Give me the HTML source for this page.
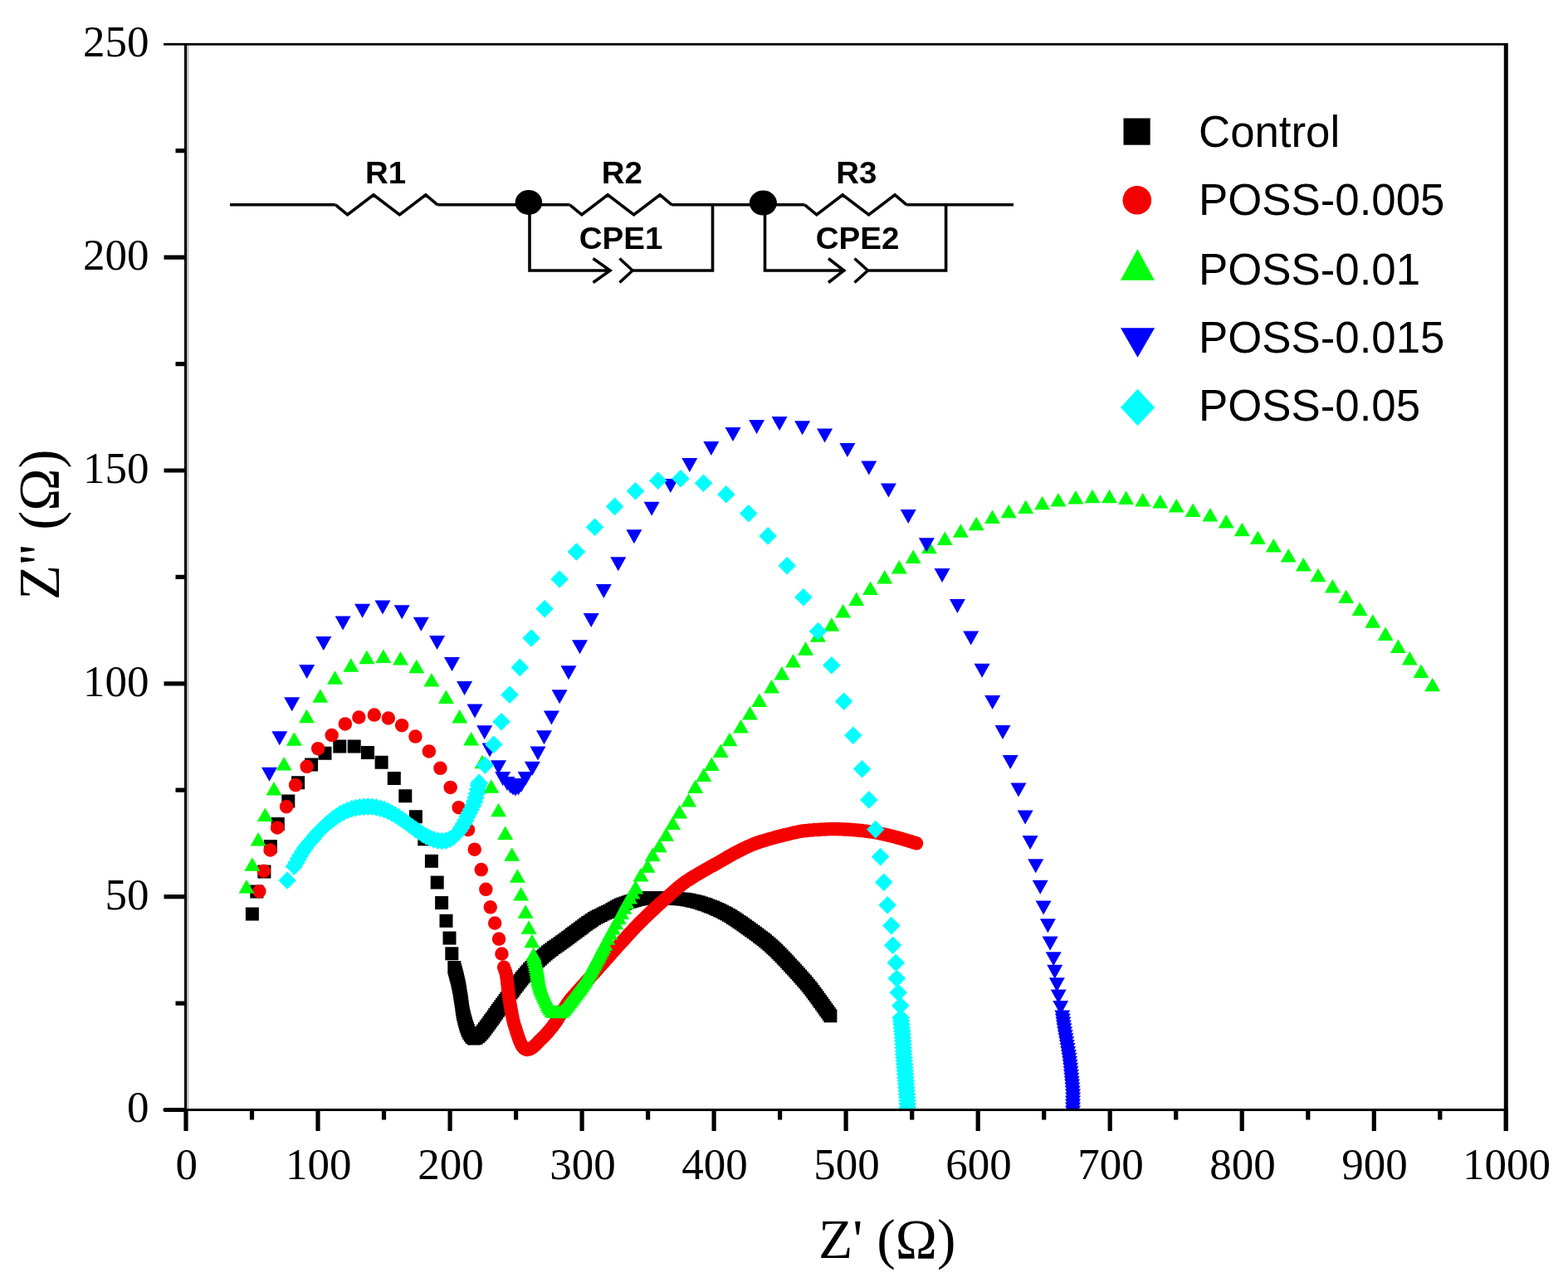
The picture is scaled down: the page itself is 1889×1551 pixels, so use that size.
<!DOCTYPE html><html><head><meta charset="utf-8"><style>html,body{margin:0;padding:0;background:#fff}svg{display:block}</style></head><body>
<svg width="1889" height="1551" viewBox="0 0 1889 1551">
<rect width="1889" height="1551" fill="#fff"/>
<defs><clipPath id="pc"><rect x="224" y="54" width="1590" height="1283.5"/></clipPath></defs>
<g clip-path="url(#pc)">
<path fill="#000" d="M295.9 1093.6h16v16h-16zM301.3 1066.4h16v16h-16zM310.4 1042.4h16v16h-16zM317.9 1011.9h16v16h-16zM326.8 984.9h16v16h-16zM339.3 957.6h16v16h-16zM351.1 935.3h16v16h-16zM367.1 913.5h16v16h-16zM383.5 899.7h16v16h-16zM401.3 891.6h16v16h-16zM418.7 891.6h16v16h-16zM435 899h16v16h-16zM451.6 910.8h16v16h-16zM466.8 929.9h16v16h-16zM480.3 951.2h16v16h-16zM492.9 976.3h16v16h-16zM503.3 1003.3h16v16h-16zM511.9 1029.8h16v16h-16zM518.7 1055.6h16v16h-16zM524.1 1080h16v16h-16zM529.5 1101.8h16v16h-16zM533.5 1122.5h16v16h-16zM536.3 1141.3h16v16h-16zM539.3 1158h16v16h-16zM540 1160.9h16v16h-16zM540.8 1163.8h16v16h-16zM541.5 1166.7h16v16h-16zM542.3 1169.6h16v16h-16zM543 1172.5h16v16h-16zM543.7 1175.4h16v16h-16zM544.4 1178.4h16v16h-16zM544.9 1181.3h16v16h-16zM545.5 1184.3h16v16h-16zM546 1187.2h16v16h-16zM546.4 1190.2h16v16h-16zM546.9 1193.2h16v16h-16zM547.4 1196.1h16v16h-16zM547.8 1199.1h16v16h-16zM548.2 1202.1h16v16h-16zM548.6 1205h16v16h-16zM549 1208h16v16h-16zM549.5 1211h16v16h-16zM550 1213.9h16v16h-16zM550.7 1216.8h16v16h-16zM551.4 1219.8h16v16h-16zM552.2 1222.7h16v16h-16zM553 1225.5h16v16h-16zM553.8 1228.4h16v16h-16zM554.8 1231.3h16v16h-16zM555.8 1234.1h16v16h-16zM557.2 1236.8h16v16h-16zM558.8 1239.3h16v16h-16zM560.5 1241.7h16v16h-16zM562.9 1243.5h16v16h-16zM565.7 1242.8h16v16h-16zM568.2 1241.1h16v16h-16zM570.3 1238.9h16v16h-16zM572.3 1236.7h16v16h-16zM574.2 1234.4h16v16h-16zM576 1232h16v16h-16zM577.8 1229.6h16v16h-16zM579.6 1227.2h16v16h-16zM581.4 1224.8h16v16h-16zM583.1 1222.3h16v16h-16zM584.8 1219.9h16v16h-16zM586.6 1217.4h16v16h-16zM588.3 1215h16v16h-16zM590.1 1212.6h16v16h-16zM591.8 1210.1h16v16h-16zM593.5 1207.7h16v16h-16zM595.3 1205.2h16v16h-16zM597 1202.8h16v16h-16zM598.8 1200.4h16v16h-16zM600.6 1197.9h16v16h-16zM602.4 1195.5h16v16h-16zM604.1 1193.1h16v16h-16zM605.9 1190.7h16v16h-16zM607.7 1188.3h16v16h-16zM609.5 1185.9h16v16h-16zM611.3 1183.5h16v16h-16zM613.1 1181.1h16v16h-16zM614.9 1178.7h16v16h-16zM616.7 1176.3h16v16h-16zM618.6 1173.9h16v16h-16zM620.4 1171.6h16v16h-16zM622.3 1169.3h16v16h-16zM624.2 1166.9h16v16h-16zM626.2 1164.6h16v16h-16zM628.1 1162.4h16v16h-16zM630.1 1160.1h16v16h-16zM632.2 1157.9h16v16h-16zM634.2 1155.8h16v16h-16zM636.4 1153.6h16v16h-16zM638.5 1151.5h16v16h-16zM640.7 1149.5h16v16h-16zM642.9 1147.5h16v16h-16zM645.1 1145.5h16v16h-16zM647.4 1143.5h16v16h-16zM649.7 1141.5h16v16h-16zM652 1139.6h16v16h-16zM654.3 1137.7h16v16h-16zM656.7 1135.9h16v16h-16zM659.1 1134.1h16v16h-16zM661.5 1132.4h16v16h-16zM664 1130.7h16v16h-16zM666.5 1129h16v16h-16zM668.9 1127.3h16v16h-16zM671.4 1125.5h16v16h-16zM673.8 1123.8h16v16h-16zM676.2 1122h16v16h-16zM678.6 1120.2h16v16h-16zM681 1118.3h16v16h-16zM683.4 1116.5h16v16h-16zM685.8 1114.7h16v16h-16zM688.2 1112.9h16v16h-16zM690.6 1111.2h16v16h-16zM693 1109.4h16v16h-16zM695.4 1107.6h16v16h-16zM697.9 1105.8h16v16h-16zM700.3 1104.1h16v16h-16zM702.8 1102.4h16v16h-16zM705.2 1100.7h16v16h-16zM707.8 1099.1h16v16h-16zM710.4 1097.6h16v16h-16zM713 1096.2h16v16h-16zM715.7 1094.9h16v16h-16zM718.4 1093.6h16v16h-16zM721.2 1092.3h16v16h-16zM723.9 1091h16v16h-16zM726.6 1089.7h16v16h-16zM729.2 1088.3h16v16h-16zM731.8 1086.8h16v16h-16zM734.4 1085.3h16v16h-16zM737 1083.8h16v16h-16zM739.7 1082.6h16v16h-16zM742.5 1081.4h16v16h-16zM745.3 1080.4h16v16h-16zM748.2 1079.4h16v16h-16zM751 1078.5h16v16h-16zM753.9 1077.7h16v16h-16zM756.8 1076.9h16v16h-16zM759.7 1076.1h16v16h-16zM762.6 1075.5h16v16h-16zM765.6 1074.9h16v16h-16zM768.5 1074.5h16v16h-16zM771.5 1074.2h16v16h-16zM774.5 1074h16v16h-16zM777.5 1073.9h16v16h-16zM780.5 1074h16v16h-16zM783.5 1074.1h16v16h-16zM786.5 1074.2h16v16h-16zM789.5 1074.3h16v16h-16zM792.5 1074.5h16v16h-16zM795.5 1074.6h16v16h-16zM798.5 1074.6h16v16h-16zM801.5 1074.7h16v16h-16zM804.5 1074.8h16v16h-16zM807.5 1075h16v16h-16zM810.5 1075.2h16v16h-16zM813.5 1075.5h16v16h-16zM816.5 1075.8h16v16h-16zM819.4 1076.3h16v16h-16zM822.4 1076.8h16v16h-16zM825.3 1077.4h16v16h-16zM828.2 1078.1h16v16h-16zM831.2 1078.8h16v16h-16zM834 1079.6h16v16h-16zM836.9 1080.5h16v16h-16zM839.8 1081.4h16v16h-16zM842.6 1082.3h16v16h-16zM845.4 1083.4h16v16h-16zM848.2 1084.4h16v16h-16zM851 1085.5h16v16h-16zM853.8 1086.7h16v16h-16zM856.5 1087.9h16v16h-16zM859.2 1089.2h16v16h-16zM861.9 1090.5h16v16h-16zM864.6 1091.9h16v16h-16zM867.2 1093.3h16v16h-16zM869.9 1094.8h16v16h-16zM872.5 1096.3h16v16h-16zM875 1097.9h16v16h-16zM877.5 1099.5h16v16h-16zM880 1101.2h16v16h-16zM882.5 1102.9h16v16h-16zM885 1104.6h16v16h-16zM887.4 1106.3h16v16h-16zM889.8 1108.1h16v16h-16zM892.3 1109.8h16v16h-16zM894.7 1111.6h16v16h-16zM897.1 1113.3h16v16h-16zM899.6 1115.1h16v16h-16zM902 1116.8h16v16h-16zM904.5 1118.6h16v16h-16zM906.9 1120.4h16v16h-16zM909.3 1122.2h16v16h-16zM911.7 1124h16v16h-16zM914 1125.8h16v16h-16zM916.3 1127.7h16v16h-16zM918.6 1129.7h16v16h-16zM920.9 1131.7h16v16h-16zM923.1 1133.7h16v16h-16zM925.3 1135.8h16v16h-16zM927.4 1137.8h16v16h-16zM929.5 1140h16v16h-16zM931.6 1142.1h16v16h-16zM933.7 1144.3h16v16h-16zM935.8 1146.4h16v16h-16zM937.8 1148.6h16v16h-16zM939.9 1150.8h16v16h-16zM941.9 1153h16v16h-16zM944 1155.2h16v16h-16zM946 1157.4h16v16h-16zM948.1 1159.6h16v16h-16zM950.1 1161.8h16v16h-16zM952.1 1164h16v16h-16zM954.1 1166.2h16v16h-16zM956.1 1168.5h16v16h-16zM958.1 1170.7h16v16h-16zM960.1 1173h16v16h-16zM962 1175.3h16v16h-16zM964 1177.6h16v16h-16zM965.9 1179.9h16v16h-16zM967.8 1182.2h16v16h-16zM969.6 1184.6h16v16h-16zM971.4 1187h16v16h-16zM973.2 1189.4h16v16h-16zM975 1191.8h16v16h-16zM976.7 1194.2h16v16h-16zM978.5 1196.7h16v16h-16zM980.2 1199.1h16v16h-16zM982 1201.5h16v16h-16zM983.7 1204h16v16h-16zM985.5 1206.4h16v16h-16zM987.2 1208.9h16v16h-16zM988.9 1211.3h16v16h-16zM990.7 1213.8h16v16h-16zM992.4 1216.3h16v16h-16zM992.4 1216.3h16v16h-16z"/>
<path fill="#f50000" d="M304.1 1074.2a8.2 8.2 0 1 0 16.5 0a8.2 8.2 0 1 0 -16.5 0zM309.6 1049.7a8.2 8.2 0 1 0 16.5 0a8.2 8.2 0 1 0 -16.5 0zM317.4 1024.4a8.2 8.2 0 1 0 16.5 0a8.2 8.2 0 1 0 -16.5 0zM325.9 997.4a8.2 8.2 0 1 0 16.5 0a8.2 8.2 0 1 0 -16.5 0zM336.8 972.2a8.2 8.2 0 1 0 16.5 0a8.2 8.2 0 1 0 -16.5 0zM347.8 946.1a8.2 8.2 0 1 0 16.5 0a8.2 8.2 0 1 0 -16.5 0zM361.4 923.8a8.2 8.2 0 1 0 16.5 0a8.2 8.2 0 1 0 -16.5 0zM374.9 902.2a8.2 8.2 0 1 0 16.5 0a8.2 8.2 0 1 0 -16.5 0zM391.4 886a8.2 8.2 0 1 0 16.5 0a8.2 8.2 0 1 0 -16.5 0zM407.6 872.4a8.2 8.2 0 1 0 16.5 0a8.2 8.2 0 1 0 -16.5 0zM424.1 864.5a8.2 8.2 0 1 0 16.5 0a8.2 8.2 0 1 0 -16.5 0zM442.6 861.6a8.2 8.2 0 1 0 16.5 0a8.2 8.2 0 1 0 -16.5 0zM459.6 865.5a8.2 8.2 0 1 0 16.5 0a8.2 8.2 0 1 0 -16.5 0zM475.9 874.2a8.2 8.2 0 1 0 16.5 0a8.2 8.2 0 1 0 -16.5 0zM492.2 887.6a8.2 8.2 0 1 0 16.5 0a8.2 8.2 0 1 0 -16.5 0zM508.6 905.4a8.2 8.2 0 1 0 16.5 0a8.2 8.2 0 1 0 -16.5 0zM522.2 925.8a8.2 8.2 0 1 0 16.5 0a8.2 8.2 0 1 0 -16.5 0zM534.4 948.9a8.2 8.2 0 1 0 16.5 0a8.2 8.2 0 1 0 -16.5 0zM544.4 973.2a8.2 8.2 0 1 0 16.5 0a8.2 8.2 0 1 0 -16.5 0zM555.8 1000a8.2 8.2 0 1 0 16.5 0a8.2 8.2 0 1 0 -16.5 0zM563.5 1023.7a8.2 8.2 0 1 0 16.5 0a8.2 8.2 0 1 0 -16.5 0zM571.5 1048.1a8.2 8.2 0 1 0 16.5 0a8.2 8.2 0 1 0 -16.5 0zM577.1 1071.8a8.2 8.2 0 1 0 16.5 0a8.2 8.2 0 1 0 -16.5 0zM582.5 1093.3a8.2 8.2 0 1 0 16.5 0a8.2 8.2 0 1 0 -16.5 0zM587.9 1112.5a8.2 8.2 0 1 0 16.5 0a8.2 8.2 0 1 0 -16.5 0zM592.8 1131.6a8.2 8.2 0 1 0 16.5 0a8.2 8.2 0 1 0 -16.5 0zM596.2 1149.5a8.2 8.2 0 1 0 16.5 0a8.2 8.2 0 1 0 -16.5 0zM598.9 1165.7a8.2 8.2 0 1 0 16.5 0a8.2 8.2 0 1 0 -16.5 0zM598.9 1165.7a8.2 8.2 0 1 0 16.5 0a8.2 8.2 0 1 0 -16.5 0zM599.9 1168.5a8.2 8.2 0 1 0 16.5 0a8.2 8.2 0 1 0 -16.5 0zM600.9 1171.3a8.2 8.2 0 1 0 16.5 0a8.2 8.2 0 1 0 -16.5 0zM601.6 1174.3a8.2 8.2 0 1 0 16.5 0a8.2 8.2 0 1 0 -16.5 0zM602.1 1177.2a8.2 8.2 0 1 0 16.5 0a8.2 8.2 0 1 0 -16.5 0zM602.5 1180.2a8.2 8.2 0 1 0 16.5 0a8.2 8.2 0 1 0 -16.5 0zM602.8 1183.2a8.2 8.2 0 1 0 16.5 0a8.2 8.2 0 1 0 -16.5 0zM603.2 1186.1a8.2 8.2 0 1 0 16.5 0a8.2 8.2 0 1 0 -16.5 0zM603.5 1189.1a8.2 8.2 0 1 0 16.5 0a8.2 8.2 0 1 0 -16.5 0zM603.8 1192.1a8.2 8.2 0 1 0 16.5 0a8.2 8.2 0 1 0 -16.5 0zM604.2 1195.1a8.2 8.2 0 1 0 16.5 0a8.2 8.2 0 1 0 -16.5 0zM604.5 1198.1a8.2 8.2 0 1 0 16.5 0a8.2 8.2 0 1 0 -16.5 0zM604.9 1201a8.2 8.2 0 1 0 16.5 0a8.2 8.2 0 1 0 -16.5 0zM605.3 1204a8.2 8.2 0 1 0 16.5 0a8.2 8.2 0 1 0 -16.5 0zM605.8 1207a8.2 8.2 0 1 0 16.5 0a8.2 8.2 0 1 0 -16.5 0zM606.2 1210a8.2 8.2 0 1 0 16.5 0a8.2 8.2 0 1 0 -16.5 0zM606.7 1212.9a8.2 8.2 0 1 0 16.5 0a8.2 8.2 0 1 0 -16.5 0zM607.2 1215.9a8.2 8.2 0 1 0 16.5 0a8.2 8.2 0 1 0 -16.5 0zM607.8 1218.8a8.2 8.2 0 1 0 16.5 0a8.2 8.2 0 1 0 -16.5 0zM608.3 1221.8a8.2 8.2 0 1 0 16.5 0a8.2 8.2 0 1 0 -16.5 0zM609 1224.7a8.2 8.2 0 1 0 16.5 0a8.2 8.2 0 1 0 -16.5 0zM609.6 1227.6a8.2 8.2 0 1 0 16.5 0a8.2 8.2 0 1 0 -16.5 0zM610.3 1230.5a8.2 8.2 0 1 0 16.5 0a8.2 8.2 0 1 0 -16.5 0zM611 1233.5a8.2 8.2 0 1 0 16.5 0a8.2 8.2 0 1 0 -16.5 0zM611.8 1236.3a8.2 8.2 0 1 0 16.5 0a8.2 8.2 0 1 0 -16.5 0zM612.7 1239.2a8.2 8.2 0 1 0 16.5 0a8.2 8.2 0 1 0 -16.5 0zM613.6 1242.1a8.2 8.2 0 1 0 16.5 0a8.2 8.2 0 1 0 -16.5 0zM614.5 1244.9a8.2 8.2 0 1 0 16.5 0a8.2 8.2 0 1 0 -16.5 0zM615.5 1247.8a8.2 8.2 0 1 0 16.5 0a8.2 8.2 0 1 0 -16.5 0zM616.5 1250.6a8.2 8.2 0 1 0 16.5 0a8.2 8.2 0 1 0 -16.5 0zM617.5 1253.4a8.2 8.2 0 1 0 16.5 0a8.2 8.2 0 1 0 -16.5 0zM618.6 1256.2a8.2 8.2 0 1 0 16.5 0a8.2 8.2 0 1 0 -16.5 0zM619.8 1258.9a8.2 8.2 0 1 0 16.5 0a8.2 8.2 0 1 0 -16.5 0zM621.4 1261.5a8.2 8.2 0 1 0 16.5 0a8.2 8.2 0 1 0 -16.5 0zM623.4 1263.7a8.2 8.2 0 1 0 16.5 0a8.2 8.2 0 1 0 -16.5 0zM626.1 1265a8.2 8.2 0 1 0 16.5 0a8.2 8.2 0 1 0 -16.5 0zM629 1264.6a8.2 8.2 0 1 0 16.5 0a8.2 8.2 0 1 0 -16.5 0zM631.8 1263.3a8.2 8.2 0 1 0 16.5 0a8.2 8.2 0 1 0 -16.5 0zM634.2 1261.6a8.2 8.2 0 1 0 16.5 0a8.2 8.2 0 1 0 -16.5 0zM636.5 1259.6a8.2 8.2 0 1 0 16.5 0a8.2 8.2 0 1 0 -16.5 0zM638.6 1257.5a8.2 8.2 0 1 0 16.5 0a8.2 8.2 0 1 0 -16.5 0zM640.6 1255.3a8.2 8.2 0 1 0 16.5 0a8.2 8.2 0 1 0 -16.5 0zM642.8 1253.2a8.2 8.2 0 1 0 16.5 0a8.2 8.2 0 1 0 -16.5 0zM644.9 1251.1a8.2 8.2 0 1 0 16.5 0a8.2 8.2 0 1 0 -16.5 0zM647.1 1249a8.2 8.2 0 1 0 16.5 0a8.2 8.2 0 1 0 -16.5 0zM649.1 1246.8a8.2 8.2 0 1 0 16.5 0a8.2 8.2 0 1 0 -16.5 0zM651.1 1244.6a8.2 8.2 0 1 0 16.5 0a8.2 8.2 0 1 0 -16.5 0zM653.1 1242.3a8.2 8.2 0 1 0 16.5 0a8.2 8.2 0 1 0 -16.5 0zM655 1240a8.2 8.2 0 1 0 16.5 0a8.2 8.2 0 1 0 -16.5 0zM656.9 1237.7a8.2 8.2 0 1 0 16.5 0a8.2 8.2 0 1 0 -16.5 0zM658.7 1235.3a8.2 8.2 0 1 0 16.5 0a8.2 8.2 0 1 0 -16.5 0zM660.5 1232.9a8.2 8.2 0 1 0 16.5 0a8.2 8.2 0 1 0 -16.5 0zM662.2 1230.4a8.2 8.2 0 1 0 16.5 0a8.2 8.2 0 1 0 -16.5 0zM663.8 1227.9a8.2 8.2 0 1 0 16.5 0a8.2 8.2 0 1 0 -16.5 0zM665.4 1225.3a8.2 8.2 0 1 0 16.5 0a8.2 8.2 0 1 0 -16.5 0zM666.9 1222.8a8.2 8.2 0 1 0 16.5 0a8.2 8.2 0 1 0 -16.5 0zM668.5 1220.2a8.2 8.2 0 1 0 16.5 0a8.2 8.2 0 1 0 -16.5 0zM670.1 1217.6a8.2 8.2 0 1 0 16.5 0a8.2 8.2 0 1 0 -16.5 0zM671.7 1215.1a8.2 8.2 0 1 0 16.5 0a8.2 8.2 0 1 0 -16.5 0zM673.3 1212.6a8.2 8.2 0 1 0 16.5 0a8.2 8.2 0 1 0 -16.5 0zM674.9 1210.1a8.2 8.2 0 1 0 16.5 0a8.2 8.2 0 1 0 -16.5 0zM676.7 1207.6a8.2 8.2 0 1 0 16.5 0a8.2 8.2 0 1 0 -16.5 0zM678.5 1205.2a8.2 8.2 0 1 0 16.5 0a8.2 8.2 0 1 0 -16.5 0zM680.3 1202.9a8.2 8.2 0 1 0 16.5 0a8.2 8.2 0 1 0 -16.5 0zM682.3 1200.6a8.2 8.2 0 1 0 16.5 0a8.2 8.2 0 1 0 -16.5 0zM684.3 1198.3a8.2 8.2 0 1 0 16.5 0a8.2 8.2 0 1 0 -16.5 0zM686.3 1196.1a8.2 8.2 0 1 0 16.5 0a8.2 8.2 0 1 0 -16.5 0zM688.3 1193.9a8.2 8.2 0 1 0 16.5 0a8.2 8.2 0 1 0 -16.5 0zM690.3 1191.7a8.2 8.2 0 1 0 16.5 0a8.2 8.2 0 1 0 -16.5 0zM692.3 1189.4a8.2 8.2 0 1 0 16.5 0a8.2 8.2 0 1 0 -16.5 0zM694.3 1187.2a8.2 8.2 0 1 0 16.5 0a8.2 8.2 0 1 0 -16.5 0zM696.3 1185a8.2 8.2 0 1 0 16.5 0a8.2 8.2 0 1 0 -16.5 0zM698.3 1182.7a8.2 8.2 0 1 0 16.5 0a8.2 8.2 0 1 0 -16.5 0zM700.3 1180.5a8.2 8.2 0 1 0 16.5 0a8.2 8.2 0 1 0 -16.5 0zM702.3 1178.3a8.2 8.2 0 1 0 16.5 0a8.2 8.2 0 1 0 -16.5 0zM704.3 1176a8.2 8.2 0 1 0 16.5 0a8.2 8.2 0 1 0 -16.5 0zM706.4 1173.8a8.2 8.2 0 1 0 16.5 0a8.2 8.2 0 1 0 -16.5 0zM708.4 1171.6a8.2 8.2 0 1 0 16.5 0a8.2 8.2 0 1 0 -16.5 0zM710.4 1169.4a8.2 8.2 0 1 0 16.5 0a8.2 8.2 0 1 0 -16.5 0zM712.4 1167.1a8.2 8.2 0 1 0 16.5 0a8.2 8.2 0 1 0 -16.5 0zM714.4 1164.9a8.2 8.2 0 1 0 16.5 0a8.2 8.2 0 1 0 -16.5 0zM716.4 1162.7a8.2 8.2 0 1 0 16.5 0a8.2 8.2 0 1 0 -16.5 0zM718.4 1160.4a8.2 8.2 0 1 0 16.5 0a8.2 8.2 0 1 0 -16.5 0zM720.4 1158.2a8.2 8.2 0 1 0 16.5 0a8.2 8.2 0 1 0 -16.5 0zM722.4 1156a8.2 8.2 0 1 0 16.5 0a8.2 8.2 0 1 0 -16.5 0zM724.4 1153.7a8.2 8.2 0 1 0 16.5 0a8.2 8.2 0 1 0 -16.5 0zM726.3 1151.5a8.2 8.2 0 1 0 16.5 0a8.2 8.2 0 1 0 -16.5 0zM728.3 1149.2a8.2 8.2 0 1 0 16.5 0a8.2 8.2 0 1 0 -16.5 0zM730.3 1147a8.2 8.2 0 1 0 16.5 0a8.2 8.2 0 1 0 -16.5 0zM732.3 1144.7a8.2 8.2 0 1 0 16.5 0a8.2 8.2 0 1 0 -16.5 0zM734.3 1142.5a8.2 8.2 0 1 0 16.5 0a8.2 8.2 0 1 0 -16.5 0zM736.3 1140.2a8.2 8.2 0 1 0 16.5 0a8.2 8.2 0 1 0 -16.5 0zM738.3 1138a8.2 8.2 0 1 0 16.5 0a8.2 8.2 0 1 0 -16.5 0zM740.3 1135.8a8.2 8.2 0 1 0 16.5 0a8.2 8.2 0 1 0 -16.5 0zM742.4 1133.6a8.2 8.2 0 1 0 16.5 0a8.2 8.2 0 1 0 -16.5 0zM744.4 1131.4a8.2 8.2 0 1 0 16.5 0a8.2 8.2 0 1 0 -16.5 0zM746.4 1129.1a8.2 8.2 0 1 0 16.5 0a8.2 8.2 0 1 0 -16.5 0zM748.4 1126.9a8.2 8.2 0 1 0 16.5 0a8.2 8.2 0 1 0 -16.5 0zM750.4 1124.7a8.2 8.2 0 1 0 16.5 0a8.2 8.2 0 1 0 -16.5 0zM752.5 1122.5a8.2 8.2 0 1 0 16.5 0a8.2 8.2 0 1 0 -16.5 0zM754.5 1120.3a8.2 8.2 0 1 0 16.5 0a8.2 8.2 0 1 0 -16.5 0zM756.6 1118.1a8.2 8.2 0 1 0 16.5 0a8.2 8.2 0 1 0 -16.5 0zM758.7 1116a8.2 8.2 0 1 0 16.5 0a8.2 8.2 0 1 0 -16.5 0zM760.7 1113.8a8.2 8.2 0 1 0 16.5 0a8.2 8.2 0 1 0 -16.5 0zM762.9 1111.7a8.2 8.2 0 1 0 16.5 0a8.2 8.2 0 1 0 -16.5 0zM765 1109.6a8.2 8.2 0 1 0 16.5 0a8.2 8.2 0 1 0 -16.5 0zM767.1 1107.5a8.2 8.2 0 1 0 16.5 0a8.2 8.2 0 1 0 -16.5 0zM769.3 1105.4a8.2 8.2 0 1 0 16.5 0a8.2 8.2 0 1 0 -16.5 0zM771.4 1103.3a8.2 8.2 0 1 0 16.5 0a8.2 8.2 0 1 0 -16.5 0zM773.6 1101.2a8.2 8.2 0 1 0 16.5 0a8.2 8.2 0 1 0 -16.5 0zM775.8 1099.2a8.2 8.2 0 1 0 16.5 0a8.2 8.2 0 1 0 -16.5 0zM778 1097.1a8.2 8.2 0 1 0 16.5 0a8.2 8.2 0 1 0 -16.5 0zM780.2 1095.1a8.2 8.2 0 1 0 16.5 0a8.2 8.2 0 1 0 -16.5 0zM782.4 1093a8.2 8.2 0 1 0 16.5 0a8.2 8.2 0 1 0 -16.5 0zM784.6 1091a8.2 8.2 0 1 0 16.5 0a8.2 8.2 0 1 0 -16.5 0zM786.8 1088.9a8.2 8.2 0 1 0 16.5 0a8.2 8.2 0 1 0 -16.5 0zM789 1087a8.2 8.2 0 1 0 16.5 0a8.2 8.2 0 1 0 -16.5 0zM791.3 1085a8.2 8.2 0 1 0 16.5 0a8.2 8.2 0 1 0 -16.5 0zM793.6 1083a8.2 8.2 0 1 0 16.5 0a8.2 8.2 0 1 0 -16.5 0zM795.8 1081.1a8.2 8.2 0 1 0 16.5 0a8.2 8.2 0 1 0 -16.5 0zM798 1079.1a8.2 8.2 0 1 0 16.5 0a8.2 8.2 0 1 0 -16.5 0zM800.3 1077a8.2 8.2 0 1 0 16.5 0a8.2 8.2 0 1 0 -16.5 0zM802.5 1075a8.2 8.2 0 1 0 16.5 0a8.2 8.2 0 1 0 -16.5 0zM804.8 1073.1a8.2 8.2 0 1 0 16.5 0a8.2 8.2 0 1 0 -16.5 0zM807 1071.1a8.2 8.2 0 1 0 16.5 0a8.2 8.2 0 1 0 -16.5 0zM809.3 1069.2a8.2 8.2 0 1 0 16.5 0a8.2 8.2 0 1 0 -16.5 0zM811.6 1067.3a8.2 8.2 0 1 0 16.5 0a8.2 8.2 0 1 0 -16.5 0zM814 1065.4a8.2 8.2 0 1 0 16.5 0a8.2 8.2 0 1 0 -16.5 0zM816.4 1063.6a8.2 8.2 0 1 0 16.5 0a8.2 8.2 0 1 0 -16.5 0zM818.9 1061.9a8.2 8.2 0 1 0 16.5 0a8.2 8.2 0 1 0 -16.5 0zM821.4 1060.3a8.2 8.2 0 1 0 16.5 0a8.2 8.2 0 1 0 -16.5 0zM823.9 1058.6a8.2 8.2 0 1 0 16.5 0a8.2 8.2 0 1 0 -16.5 0zM826.5 1057.1a8.2 8.2 0 1 0 16.5 0a8.2 8.2 0 1 0 -16.5 0zM829 1055.5a8.2 8.2 0 1 0 16.5 0a8.2 8.2 0 1 0 -16.5 0zM831.6 1054a8.2 8.2 0 1 0 16.5 0a8.2 8.2 0 1 0 -16.5 0zM834.2 1052.4a8.2 8.2 0 1 0 16.5 0a8.2 8.2 0 1 0 -16.5 0zM836.8 1050.9a8.2 8.2 0 1 0 16.5 0a8.2 8.2 0 1 0 -16.5 0zM839.4 1049.4a8.2 8.2 0 1 0 16.5 0a8.2 8.2 0 1 0 -16.5 0zM842 1047.9a8.2 8.2 0 1 0 16.5 0a8.2 8.2 0 1 0 -16.5 0zM844.6 1046.5a8.2 8.2 0 1 0 16.5 0a8.2 8.2 0 1 0 -16.5 0zM847.2 1045a8.2 8.2 0 1 0 16.5 0a8.2 8.2 0 1 0 -16.5 0zM849.8 1043.6a8.2 8.2 0 1 0 16.5 0a8.2 8.2 0 1 0 -16.5 0zM852.5 1042.1a8.2 8.2 0 1 0 16.5 0a8.2 8.2 0 1 0 -16.5 0zM855.1 1040.7a8.2 8.2 0 1 0 16.5 0a8.2 8.2 0 1 0 -16.5 0zM857.7 1039.2a8.2 8.2 0 1 0 16.5 0a8.2 8.2 0 1 0 -16.5 0zM860.3 1037.7a8.2 8.2 0 1 0 16.5 0a8.2 8.2 0 1 0 -16.5 0zM862.9 1036.2a8.2 8.2 0 1 0 16.5 0a8.2 8.2 0 1 0 -16.5 0zM865.5 1034.7a8.2 8.2 0 1 0 16.5 0a8.2 8.2 0 1 0 -16.5 0zM868.1 1033.1a8.2 8.2 0 1 0 16.5 0a8.2 8.2 0 1 0 -16.5 0zM870.7 1031.6a8.2 8.2 0 1 0 16.5 0a8.2 8.2 0 1 0 -16.5 0zM873.3 1030.2a8.2 8.2 0 1 0 16.5 0a8.2 8.2 0 1 0 -16.5 0zM875.9 1028.7a8.2 8.2 0 1 0 16.5 0a8.2 8.2 0 1 0 -16.5 0zM878.6 1027.3a8.2 8.2 0 1 0 16.5 0a8.2 8.2 0 1 0 -16.5 0zM881.2 1025.9a8.2 8.2 0 1 0 16.5 0a8.2 8.2 0 1 0 -16.5 0zM883.9 1024.6a8.2 8.2 0 1 0 16.5 0a8.2 8.2 0 1 0 -16.5 0zM886.6 1023.2a8.2 8.2 0 1 0 16.5 0a8.2 8.2 0 1 0 -16.5 0zM889.3 1021.9a8.2 8.2 0 1 0 16.5 0a8.2 8.2 0 1 0 -16.5 0zM892 1020.6a8.2 8.2 0 1 0 16.5 0a8.2 8.2 0 1 0 -16.5 0zM894.7 1019.4a8.2 8.2 0 1 0 16.5 0a8.2 8.2 0 1 0 -16.5 0zM897.5 1018.2a8.2 8.2 0 1 0 16.5 0a8.2 8.2 0 1 0 -16.5 0zM900.3 1017.1a8.2 8.2 0 1 0 16.5 0a8.2 8.2 0 1 0 -16.5 0zM903.1 1016.1a8.2 8.2 0 1 0 16.5 0a8.2 8.2 0 1 0 -16.5 0zM905.9 1015.1a8.2 8.2 0 1 0 16.5 0a8.2 8.2 0 1 0 -16.5 0zM908.8 1014.1a8.2 8.2 0 1 0 16.5 0a8.2 8.2 0 1 0 -16.5 0zM911.6 1013.3a8.2 8.2 0 1 0 16.5 0a8.2 8.2 0 1 0 -16.5 0zM914.5 1012.4a8.2 8.2 0 1 0 16.5 0a8.2 8.2 0 1 0 -16.5 0zM917.4 1011.5a8.2 8.2 0 1 0 16.5 0a8.2 8.2 0 1 0 -16.5 0zM920.3 1010.7a8.2 8.2 0 1 0 16.5 0a8.2 8.2 0 1 0 -16.5 0zM923.1 1009.9a8.2 8.2 0 1 0 16.5 0a8.2 8.2 0 1 0 -16.5 0zM926 1009.1a8.2 8.2 0 1 0 16.5 0a8.2 8.2 0 1 0 -16.5 0zM928.9 1008.3a8.2 8.2 0 1 0 16.5 0a8.2 8.2 0 1 0 -16.5 0zM931.8 1007.6a8.2 8.2 0 1 0 16.5 0a8.2 8.2 0 1 0 -16.5 0zM934.7 1006.8a8.2 8.2 0 1 0 16.5 0a8.2 8.2 0 1 0 -16.5 0zM937.7 1006.1a8.2 8.2 0 1 0 16.5 0a8.2 8.2 0 1 0 -16.5 0zM940.6 1005.4a8.2 8.2 0 1 0 16.5 0a8.2 8.2 0 1 0 -16.5 0zM943.5 1004.7a8.2 8.2 0 1 0 16.5 0a8.2 8.2 0 1 0 -16.5 0zM946.4 1004a8.2 8.2 0 1 0 16.5 0a8.2 8.2 0 1 0 -16.5 0zM949.3 1003.3a8.2 8.2 0 1 0 16.5 0a8.2 8.2 0 1 0 -16.5 0zM952.3 1002.7a8.2 8.2 0 1 0 16.5 0a8.2 8.2 0 1 0 -16.5 0zM955.2 1002.1a8.2 8.2 0 1 0 16.5 0a8.2 8.2 0 1 0 -16.5 0zM958.2 1001.6a8.2 8.2 0 1 0 16.5 0a8.2 8.2 0 1 0 -16.5 0zM961.1 1001.2a8.2 8.2 0 1 0 16.5 0a8.2 8.2 0 1 0 -16.5 0zM964.1 1000.9a8.2 8.2 0 1 0 16.5 0a8.2 8.2 0 1 0 -16.5 0zM967.1 1000.6a8.2 8.2 0 1 0 16.5 0a8.2 8.2 0 1 0 -16.5 0zM970.1 1000.4a8.2 8.2 0 1 0 16.5 0a8.2 8.2 0 1 0 -16.5 0zM973.1 1000.1a8.2 8.2 0 1 0 16.5 0a8.2 8.2 0 1 0 -16.5 0zM976.1 999.9a8.2 8.2 0 1 0 16.5 0a8.2 8.2 0 1 0 -16.5 0zM979.1 999.7a8.2 8.2 0 1 0 16.5 0a8.2 8.2 0 1 0 -16.5 0zM982.1 999.5a8.2 8.2 0 1 0 16.5 0a8.2 8.2 0 1 0 -16.5 0zM985.1 999.4a8.2 8.2 0 1 0 16.5 0a8.2 8.2 0 1 0 -16.5 0zM988.1 999.3a8.2 8.2 0 1 0 16.5 0a8.2 8.2 0 1 0 -16.5 0zM991.1 999.2a8.2 8.2 0 1 0 16.5 0a8.2 8.2 0 1 0 -16.5 0zM994.1 999.1a8.2 8.2 0 1 0 16.5 0a8.2 8.2 0 1 0 -16.5 0zM997.1 999.1a8.2 8.2 0 1 0 16.5 0a8.2 8.2 0 1 0 -16.5 0zM1000.1 999.1a8.2 8.2 0 1 0 16.5 0a8.2 8.2 0 1 0 -16.5 0zM1003.1 999.2a8.2 8.2 0 1 0 16.5 0a8.2 8.2 0 1 0 -16.5 0zM1006.1 999.3a8.2 8.2 0 1 0 16.5 0a8.2 8.2 0 1 0 -16.5 0zM1009.1 999.4a8.2 8.2 0 1 0 16.5 0a8.2 8.2 0 1 0 -16.5 0zM1012.1 999.6a8.2 8.2 0 1 0 16.5 0a8.2 8.2 0 1 0 -16.5 0zM1015 999.8a8.2 8.2 0 1 0 16.5 0a8.2 8.2 0 1 0 -16.5 0zM1018 1000a8.2 8.2 0 1 0 16.5 0a8.2 8.2 0 1 0 -16.5 0zM1021 1000.2a8.2 8.2 0 1 0 16.5 0a8.2 8.2 0 1 0 -16.5 0zM1024 1000.5a8.2 8.2 0 1 0 16.5 0a8.2 8.2 0 1 0 -16.5 0zM1027 1000.8a8.2 8.2 0 1 0 16.5 0a8.2 8.2 0 1 0 -16.5 0zM1030 1001.1a8.2 8.2 0 1 0 16.5 0a8.2 8.2 0 1 0 -16.5 0zM1033 1001.4a8.2 8.2 0 1 0 16.5 0a8.2 8.2 0 1 0 -16.5 0zM1035.9 1001.8a8.2 8.2 0 1 0 16.5 0a8.2 8.2 0 1 0 -16.5 0zM1038.9 1002.2a8.2 8.2 0 1 0 16.5 0a8.2 8.2 0 1 0 -16.5 0zM1041.9 1002.6a8.2 8.2 0 1 0 16.5 0a8.2 8.2 0 1 0 -16.5 0zM1044.9 1003.1a8.2 8.2 0 1 0 16.5 0a8.2 8.2 0 1 0 -16.5 0zM1047.8 1003.6a8.2 8.2 0 1 0 16.5 0a8.2 8.2 0 1 0 -16.5 0zM1050.8 1004.1a8.2 8.2 0 1 0 16.5 0a8.2 8.2 0 1 0 -16.5 0zM1053.7 1004.8a8.2 8.2 0 1 0 16.5 0a8.2 8.2 0 1 0 -16.5 0zM1056.6 1005.4a8.2 8.2 0 1 0 16.5 0a8.2 8.2 0 1 0 -16.5 0zM1059.5 1006.1a8.2 8.2 0 1 0 16.5 0a8.2 8.2 0 1 0 -16.5 0zM1062.5 1006.8a8.2 8.2 0 1 0 16.5 0a8.2 8.2 0 1 0 -16.5 0zM1065.4 1007.5a8.2 8.2 0 1 0 16.5 0a8.2 8.2 0 1 0 -16.5 0zM1068.3 1008.2a8.2 8.2 0 1 0 16.5 0a8.2 8.2 0 1 0 -16.5 0zM1071.2 1009a8.2 8.2 0 1 0 16.5 0a8.2 8.2 0 1 0 -16.5 0zM1074.1 1009.8a8.2 8.2 0 1 0 16.5 0a8.2 8.2 0 1 0 -16.5 0zM1077 1010.6a8.2 8.2 0 1 0 16.5 0a8.2 8.2 0 1 0 -16.5 0zM1079.8 1011.5a8.2 8.2 0 1 0 16.5 0a8.2 8.2 0 1 0 -16.5 0zM1082.7 1012.3a8.2 8.2 0 1 0 16.5 0a8.2 8.2 0 1 0 -16.5 0zM1085.6 1013.2a8.2 8.2 0 1 0 16.5 0a8.2 8.2 0 1 0 -16.5 0zM1088.5 1014.1a8.2 8.2 0 1 0 16.5 0a8.2 8.2 0 1 0 -16.5 0zM1091.3 1015a8.2 8.2 0 1 0 16.5 0a8.2 8.2 0 1 0 -16.5 0zM1094.2 1015.8a8.2 8.2 0 1 0 16.5 0a8.2 8.2 0 1 0 -16.5 0zM1095.8 1016.3a8.2 8.2 0 1 0 16.5 0a8.2 8.2 0 1 0 -16.5 0z"/>
<path fill="#00ff0c" d="M297 1060l9.5 16.5h-19zM303.9 1033.2l9.5 16.5h-19zM311.1 1003l9.5 16.5h-19zM319.3 973.4l9.5 16.5h-19zM330 942l9.5 16.5h-19zM342.1 912l9.5 16.5h-19zM354.4 882.2l9.5 16.5h-19zM369.5 854.8l9.5 16.5h-19zM385.8 830.2l9.5 16.5h-19zM403.5 808.2l9.5 16.5h-19zM422.8 793.2l9.5 16.5h-19zM441.9 783.8l9.5 16.5h-19zM461.8 782.4l9.5 16.5h-19zM482.5 785l9.5 16.5h-19zM501.8 794.8l9.5 16.5h-19zM519.9 811l9.5 16.5h-19zM537.4 831.5l9.5 16.5h-19zM553.7 855.1l9.5 16.5h-19zM567.6 882l9.5 16.5h-19zM581 909.8l9.5 16.5h-19zM591.8 939.2l9.5 16.5h-19zM600.6 967.8l9.5 16.5h-19zM608.7 995.5l9.5 16.5h-19zM616.7 1021.3l9.5 16.5h-19zM623.4 1047.2l9.5 16.5h-19zM627.6 1069l9.5 16.5h-19zM633.1 1090.2l9.5 16.5h-19zM637.1 1109.2l9.5 16.5h-19zM640.9 1125.8l9.5 16.5h-19zM642.7 1141.8l9.5 16.5h-19zM642.7 1141.8l9.5 16.5h-19zM643.4 1144.7l9.5 16.5h-19zM644.2 1147.6l9.5 16.5h-19zM644.9 1150.5l9.5 16.5h-19zM645.6 1153.4l9.5 16.5h-19zM646.2 1156.3l9.5 16.5h-19zM646.8 1159.3l9.5 16.5h-19zM647.2 1162.2l9.5 16.5h-19zM647.6 1165.2l9.5 16.5h-19zM647.9 1168.2l9.5 16.5h-19zM648.4 1171.2l9.5 16.5h-19zM649.1 1174.1l9.5 16.5h-19zM649.8 1177l9.5 16.5h-19zM650.7 1179.9l9.5 16.5h-19zM651.7 1182.7l9.5 16.5h-19zM652.7 1185.5l9.5 16.5h-19zM653.9 1188.3l9.5 16.5h-19zM655.2 1191l9.5 16.5h-19zM656.5 1193.7l9.5 16.5h-19zM657.8 1196.4l9.5 16.5h-19zM659 1199.1l9.5 16.5h-19zM660.2 1201.9l9.5 16.5h-19zM661.6 1204.5l9.5 16.5h-19zM663.2 1207.1l9.5 16.5h-19zM665.1 1209.4l9.5 16.5h-19zM667.8 1210.6l9.5 16.5h-19zM670.8 1210.5l9.5 16.5h-19zM673.8 1210.8l9.5 16.5h-19zM676.6 1210.2l9.5 16.5h-19zM678.8 1208.2l9.5 16.5h-19zM680.7 1205.8l9.5 16.5h-19zM682.5 1203.4l9.5 16.5h-19zM684.3 1201.1l9.5 16.5h-19zM686.2 1198.7l9.5 16.5h-19zM688 1196.3l9.5 16.5h-19zM689.8 1193.9l9.5 16.5h-19zM691.6 1191.5l9.5 16.5h-19zM693.4 1189.1l9.5 16.5h-19zM695.2 1186.7l9.5 16.5h-19zM697 1184.3l9.5 16.5h-19zM698.8 1181.9l9.5 16.5h-19zM700.5 1179.5l9.5 16.5h-19zM702.2 1177l9.5 16.5h-19zM703.9 1174.5l9.5 16.5h-19zM705.4 1171.9l9.5 16.5h-19zM706.9 1169.3l9.5 16.5h-19zM708.4 1166.7l9.5 16.5h-19zM709.9 1164.1l9.5 16.5h-19zM711.3 1161.5l9.5 16.5h-19zM712.7 1158.8l9.5 16.5h-19zM714.1 1156.2l9.5 16.5h-19zM715.6 1153.5l9.5 16.5h-19zM717 1150.9l9.5 16.5h-19zM718.4 1148.2l9.5 16.5h-19zM719.8 1145.6l9.5 16.5h-19zM721.2 1142.9l9.5 16.5h-19zM722.6 1140.3l9.5 16.5h-19zM724 1137.6l9.5 16.5h-19zM725.3 1134.9l9.5 16.5h-19zM726.7 1132.3l9.5 16.5h-19zM728.1 1129.6l9.5 16.5h-19zM728.7 1128.5l9.5 16.5h-19zM728.7 1128.5l9.5 16.5h-19zM732 1122.3l9.5 16.5h-19zM735.2 1116.1l9.5 16.5h-19zM738.5 1109.9l9.5 16.5h-19zM741.9 1103.8l9.5 16.5h-19zM745.3 1097.6l9.5 16.5h-19zM748.6 1091.5l9.5 16.5h-19zM751.9 1085.3l9.5 16.5h-19zM755.1 1079.1l9.5 16.5h-19zM758.5 1073l9.5 16.5h-19zM762 1066.9l9.5 16.5h-19zM765.6 1060.9l9.5 16.5h-19zM765.7 1060.8l9.5 16.5h-19zM772 1046l9.5 16.5h-19zM780.1 1035.2l9.5 16.5h-19zM786.2 1021.5l9.5 16.5h-19zM794.3 1010.8l9.5 16.5h-19zM802.5 997.2l9.5 16.5h-19zM810.6 983.6l9.5 16.5h-19zM818.7 970.1l9.5 16.5h-19zM829.6 956l9.5 16.5h-19zM837.7 939.6l9.5 16.5h-19zM847.8 925.5l9.5 16.5h-19zM857.3 912.5l9.5 16.5h-19zM868.2 896.4l9.5 16.5h-19zM879 882.8l9.5 16.5h-19zM892.5 866.9l9.5 16.5h-19zM903.5 851l9.5 16.5h-19zM914.8 835.5l9.5 16.5h-19zM929.5 818.9l9.5 16.5h-19zM941.9 803l9.5 16.5h-19zM955.5 788l9.5 16.5h-19zM970.5 773.2l9.5 16.5h-19zM985.4 757.2l9.5 16.5h-19zM1001.8 744.2l9.5 16.5h-19zM1015.6 727.9l9.5 16.5h-19zM1031.8 713.6l9.5 16.5h-19zM1048.5 700.6l9.5 16.5h-19zM1065.7 687l9.5 16.5h-19zM1083.3 675l9.5 16.5h-19zM1100.2 662.5l9.5 16.5h-19zM1119.3 650.8l9.5 16.5h-19zM1138.3 640.5l9.5 16.5h-19zM1157.4 631.2l9.5 16.5h-19zM1176.2 622.8l9.5 16.5h-19zM1195.5 614.6l9.5 16.5h-19zM1215.2 607.8l9.5 16.5h-19zM1235.7 602.5l9.5 16.5h-19zM1255.6 597.8l9.5 16.5h-19zM1274.9 594l9.5 16.5h-19zM1295.9 591.1l9.5 16.5h-19zM1316 589.8l9.5 16.5h-19zM1336.5 589.8l9.5 16.5h-19zM1356.6 591.4l9.5 16.5h-19zM1376.8 594l9.5 16.5h-19zM1397.7 596l9.5 16.5h-19zM1417.2 601.1l9.5 16.5h-19zM1437.1 606.6l9.5 16.5h-19zM1457.9 612.1l9.5 16.5h-19zM1477.2 620.1l9.5 16.5h-19zM1496.3 629.8l9.5 16.5h-19zM1515.3 639.4l9.5 16.5h-19zM1534.3 649l9.5 16.5h-19zM1552.2 661l9.5 16.5h-19zM1570.3 672l9.5 16.5h-19zM1588 684.8l9.5 16.5h-19zM1605.4 698l9.5 16.5h-19zM1621.7 710.4l9.5 16.5h-19zM1638.1 725.4l9.5 16.5h-19zM1653.8 740.2l9.5 16.5h-19zM1669.1 755.4l9.5 16.5h-19zM1684.4 770.4l9.5 16.5h-19zM1698.3 785.1l9.5 16.5h-19zM1712 800.5l9.5 16.5h-19zM1725.7 816.8l9.5 16.5h-19z"/>
<path fill="#00f" d="M315 924.8h19l-9.5 17zM327.3 881.3h19l-9.5 17zM342.2 840.2h19l-9.5 17zM360.2 801h19l-9.5 17zM380.3 767h19l-9.5 17zM403.6 742.5h19l-9.5 17zM427.1 727.7h19l-9.5 17zM451.5 723.5h19l-9.5 17zM474.7 729.2h19l-9.5 17zM497.8 743.8h19l-9.5 17zM517.1 765.9h19l-9.5 17zM535 792h19l-9.5 17zM550.1 821.1h19l-9.5 17zM562.5 848.5h19l-9.5 17zM574.2 874.2h19l-9.5 17zM580.5 895.5h19l-9.5 17zM591 916.3h19l-9.5 17zM596.2 929.9h19l-9.5 17zM601.5 936h19l-9.5 17zM605.5 939.5h19l-9.5 17zM608.5 941.5h19l-9.5 17zM611.5 942.8h19l-9.5 17zM615 941.5h19l-9.5 17zM618.5 938h19l-9.5 17zM623.6 929.9h19l-9.5 17zM631.9 917.7h19l-9.5 17zM638.5 899.5h19l-9.5 17zM646 880.3h19l-9.5 17zM654.9 856.5h19l-9.5 17zM664.6 831.3h19l-9.5 17zM675.5 802.3h19l-9.5 17zM689 771.2h19l-9.5 17zM702.7 738.9h19l-9.5 17zM717.8 704h19l-9.5 17zM735.3 671.3h19l-9.5 17zM754.4 638.2h19l-9.5 17zM775.6 604.8h19l-9.5 17zM798.3 577.1h19l-9.5 17zM821.3 551.9h19l-9.5 17zM847.3 532.1h19l-9.5 17zM873.5 514.9h19l-9.5 17zM902.1 505.9h19l-9.5 17zM929.6 502.1h19l-9.5 17zM957.1 507.2h19l-9.5 17zM984.1 516.4h19l-9.5 17zM1011.4 533.9h19l-9.5 17zM1037.3 555.6h19l-9.5 17zM1060.9 582.6h19l-9.5 17zM1084.7 614.1h19l-9.5 17zM1106.8 648.3h19l-9.5 17zM1125.5 685h19l-9.5 17zM1143.9 722h19l-9.5 17zM1160.2 760.5h19l-9.5 17zM1173.6 799.7h19l-9.5 17zM1186.2 838h19l-9.5 17zM1198.5 874h19l-9.5 17zM1207.7 909.9h19l-9.5 17zM1217.5 943.6h19l-9.5 17zM1225.6 976.5h19l-9.5 17zM1231.6 1007h19l-9.5 17zM1238.2 1035.3h19l-9.5 17zM1243.7 1060.7h19l-9.5 17zM1247.6 1085.4h19l-9.5 17zM1252.9 1107.2h19l-9.5 17zM1255.6 1128.5h19l-9.5 17zM1259.7 1147.3h19l-9.5 17zM1261.2 1162.8h19l-9.5 17zM1263.8 1178.3h19l-9.5 17zM1265.7 1192.6h19l-9.5 17zM1268.2 1205.9h19l-9.5 17zM1270.3 1217.5h19l-9.5 17zM1270.3 1217.5h19l-9.5 17zM1270.8 1221.5h19l-9.5 17zM1271.4 1225.4h19l-9.5 17zM1271.9 1229.4h19l-9.5 17zM1272.5 1233.3h19l-9.5 17zM1273.1 1237.3h19l-9.5 17zM1273.8 1241.2h19l-9.5 17zM1274.5 1245.2h19l-9.5 17zM1275.2 1249.1h19l-9.5 17zM1275.9 1253.1h19l-9.5 17zM1276.6 1257h19l-9.5 17zM1277.2 1260.9h19l-9.5 17zM1277.9 1264.9h19l-9.5 17zM1278.5 1268.8h19l-9.5 17zM1279.1 1272.8h19l-9.5 17zM1279.6 1276.8h19l-9.5 17zM1280.1 1280.7h19l-9.5 17zM1280.5 1284.7h19l-9.5 17zM1280.9 1288.7h19l-9.5 17zM1281.3 1292.7h19l-9.5 17zM1281.7 1296.7h19l-9.5 17zM1282.1 1300.6h19l-9.5 17zM1282.4 1304.6h19l-9.5 17zM1282.7 1308.6h19l-9.5 17zM1283 1312.6h19l-9.5 17zM1283.1 1316.6h19l-9.5 17zM1283 1320.6h19l-9.5 17zM1283 1324.6h19l-9.5 17zM1283 1328.6h19l-9.5 17zM1283 1332.6h19l-9.5 17zM1283 1336.6h19l-9.5 17zM1283 1337.5h19l-9.5 17z"/>
<path fill="#0ff" d="M346.1 1050.2l10.8 10.8l-10.8 10.8l-10.8 -10.8zM354.5 1033.2l10.8 10.8l-10.8 10.8l-10.8 -10.8zM354.5 1033.2l10.8 10.8l-10.8 10.8l-10.8 -10.8zM356.9 1028.9l10.8 10.8l-10.8 10.8l-10.8 -10.8zM359.4 1024.5l10.8 10.8l-10.8 10.8l-10.8 -10.8zM361.8 1020.2l10.8 10.8l-10.8 10.8l-10.8 -10.8zM364.4 1015.9l10.8 10.8l-10.8 10.8l-10.8 -10.8zM367.2 1011.7l10.8 10.8l-10.8 10.8l-10.8 -10.8zM370.2 1007.7l10.8 10.8l-10.8 10.8l-10.8 -10.8zM373.4 1003.9l10.8 10.8l-10.8 10.8l-10.8 -10.8zM376.7 1000.1l10.8 10.8l-10.8 10.8l-10.8 -10.8zM379.9 996.3l10.8 10.8l-10.8 10.8l-10.8 -10.8zM383.2 992.5l10.8 10.8l-10.8 10.8l-10.8 -10.8zM386.6 988.9l10.8 10.8l-10.8 10.8l-10.8 -10.8zM390.2 985.4l10.8 10.8l-10.8 10.8l-10.8 -10.8zM393.9 982.1l10.8 10.8l-10.8 10.8l-10.8 -10.8zM397.8 978.9l10.8 10.8l-10.8 10.8l-10.8 -10.8zM401.7 975.8l10.8 10.8l-10.8 10.8l-10.8 -10.8zM405.8 972.9l10.8 10.8l-10.8 10.8l-10.8 -10.8zM409.9 970.1l10.8 10.8l-10.8 10.8l-10.8 -10.8zM414.3 967.7l10.8 10.8l-10.8 10.8l-10.8 -10.8zM418.9 965.7l10.8 10.8l-10.8 10.8l-10.8 -10.8zM423.6 964l10.8 10.8l-10.8 10.8l-10.8 -10.8zM428.5 962.8l10.8 10.8l-10.8 10.8l-10.8 -10.8zM433.4 962l10.8 10.8l-10.8 10.8l-10.8 -10.8zM438.4 961.6l10.8 10.8l-10.8 10.8l-10.8 -10.8zM443.4 961.3l10.8 10.8l-10.8 10.8l-10.8 -10.8zM448.4 961.4l10.8 10.8l-10.8 10.8l-10.8 -10.8zM453.3 962.1l10.8 10.8l-10.8 10.8l-10.8 -10.8zM458.2 963.3l10.8 10.8l-10.8 10.8l-10.8 -10.8zM462.9 964.8l10.8 10.8l-10.8 10.8l-10.8 -10.8zM467.5 966.7l10.8 10.8l-10.8 10.8l-10.8 -10.8zM472 969l10.8 10.8l-10.8 10.8l-10.8 -10.8zM476.3 971.5l10.8 10.8l-10.8 10.8l-10.8 -10.8zM480.5 974.2l10.8 10.8l-10.8 10.8l-10.8 -10.8zM484.7 977l10.8 10.8l-10.8 10.8l-10.8 -10.8zM488.8 979.9l10.8 10.8l-10.8 10.8l-10.8 -10.8zM492.8 982.9l10.8 10.8l-10.8 10.8l-10.8 -10.8zM496.8 985.9l10.8 10.8l-10.8 10.8l-10.8 -10.8zM500.8 988.8l10.8 10.8l-10.8 10.8l-10.8 -10.8zM505 991.6l10.8 10.8l-10.8 10.8l-10.8 -10.8zM509.1 994.4l10.8 10.8l-10.8 10.8l-10.8 -10.8zM513.4 997l10.8 10.8l-10.8 10.8l-10.8 -10.8zM517.9 999.1l10.8 10.8l-10.8 10.8l-10.8 -10.8zM522.6 1000.9l10.8 10.8l-10.8 10.8l-10.8 -10.8zM527.4 1002.2l10.8 10.8l-10.8 10.8l-10.8 -10.8zM532.4 1002.7l10.8 10.8l-10.8 10.8l-10.8 -10.8zM537.3 1002.2l10.8 10.8l-10.8 10.8l-10.8 -10.8zM542 1000.4l10.8 10.8l-10.8 10.8l-10.8 -10.8zM546.2 997.7l10.8 10.8l-10.8 10.8l-10.8 -10.8zM549.9 994.4l10.8 10.8l-10.8 10.8l-10.8 -10.8zM553.2 990.6l10.8 10.8l-10.8 10.8l-10.8 -10.8zM556 986.5l10.8 10.8l-10.8 10.8l-10.8 -10.8zM558.5 982.2l10.8 10.8l-10.8 10.8l-10.8 -10.8zM560.9 977.8l10.8 10.8l-10.8 10.8l-10.8 -10.8zM563.1 973.3l10.8 10.8l-10.8 10.8l-10.8 -10.8zM565.4 968.8l10.8 10.8l-10.8 10.8l-10.8 -10.8zM567.7 964.4l10.8 10.8l-10.8 10.8l-10.8 -10.8zM569.8 959.9l10.8 10.8l-10.8 10.8l-10.8 -10.8zM571.6 955.2l10.8 10.8l-10.8 10.8l-10.8 -10.8zM573.1 950.4l10.8 10.8l-10.8 10.8l-10.8 -10.8zM574.3 945.6l10.8 10.8l-10.8 10.8l-10.8 -10.8zM575.4 940.7l10.8 10.8l-10.8 10.8l-10.8 -10.8zM576.5 935.8l10.8 10.8l-10.8 10.8l-10.8 -10.8zM577.2 932.6l10.8 10.8l-10.8 10.8l-10.8 -10.8zM584.3 911.4l10.8 10.8l-10.8 10.8l-10.8 -10.8zM594.9 886.5l10.8 10.8l-10.8 10.8l-10.8 -10.8zM604.1 858.9l10.8 10.8l-10.8 10.8l-10.8 -10.8zM614 826.5l10.8 10.8l-10.8 10.8l-10.8 -10.8zM626.3 793.6l10.8 10.8l-10.8 10.8l-10.8 -10.8zM640.1 758.2l10.8 10.8l-10.8 10.8l-10.8 -10.8zM656.1 722.9l10.8 10.8l-10.8 10.8l-10.8 -10.8zM674.1 687.2l10.8 10.8l-10.8 10.8l-10.8 -10.8zM694.4 654.2l10.8 10.8l-10.8 10.8l-10.8 -10.8zM716.5 624.5l10.8 10.8l-10.8 10.8l-10.8 -10.8zM740.6 599.6l10.8 10.8l-10.8 10.8l-10.8 -10.8zM765.5 580.9l10.8 10.8l-10.8 10.8l-10.8 -10.8zM792.7 568.5l10.8 10.8l-10.8 10.8l-10.8 -10.8zM820 565.9l10.8 10.8l-10.8 10.8l-10.8 -10.8zM847.5 571.4l10.8 10.8l-10.8 10.8l-10.8 -10.8zM874.8 584.9l10.8 10.8l-10.8 10.8l-10.8 -10.8zM901.8 607.9l10.8 10.8l-10.8 10.8l-10.8 -10.8zM925.1 635.1l10.8 10.8l-10.8 10.8l-10.8 -10.8zM948.1 671l10.8 10.8l-10.8 10.8l-10.8 -10.8zM967.9 709l10.8 10.8l-10.8 10.8l-10.8 -10.8zM985.5 750l10.8 10.8l-10.8 10.8l-10.8 -10.8zM1001.8 791l10.8 10.8l-10.8 10.8l-10.8 -10.8zM1016.6 834.4l10.8 10.8l-10.8 10.8l-10.8 -10.8zM1027.8 875.5l10.8 10.8l-10.8 10.8l-10.8 -10.8zM1038.6 916l10.8 10.8l-10.8 10.8l-10.8 -10.8zM1046.8 953.1l10.8 10.8l-10.8 10.8l-10.8 -10.8zM1054.8 988.8l10.8 10.8l-10.8 10.8l-10.8 -10.8zM1060.6 1021.8l10.8 10.8l-10.8 10.8l-10.8 -10.8zM1064.8 1052.5l10.8 10.8l-10.8 10.8l-10.8 -10.8zM1069.1 1080l10.8 10.8l-10.8 10.8l-10.8 -10.8zM1073.8 1104.8l10.8 10.8l-10.8 10.8l-10.8 -10.8zM1075.6 1128.5l10.8 10.8l-10.8 10.8l-10.8 -10.8zM1079.3 1149.5l10.8 10.8l-10.8 10.8l-10.8 -10.8zM1080.3 1168.3l10.8 10.8l-10.8 10.8l-10.8 -10.8zM1082.2 1185.5l10.8 10.8l-10.8 10.8l-10.8 -10.8zM1084.8 1201.2l10.8 10.8l-10.8 10.8l-10.8 -10.8zM1085.2 1215.8l10.8 10.8l-10.8 10.8l-10.8 -10.8zM1085.2 1215.8l10.8 10.8l-10.8 10.8l-10.8 -10.8zM1085.6 1219.8l10.8 10.8l-10.8 10.8l-10.8 -10.8zM1086.1 1223.8l10.8 10.8l-10.8 10.8l-10.8 -10.8zM1086.5 1227.8l10.8 10.8l-10.8 10.8l-10.8 -10.8zM1086.9 1231.8l10.8 10.8l-10.8 10.8l-10.8 -10.8zM1087.2 1235.7l10.8 10.8l-10.8 10.8l-10.8 -10.8zM1087.5 1239.7l10.8 10.8l-10.8 10.8l-10.8 -10.8zM1087.8 1243.7l10.8 10.8l-10.8 10.8l-10.8 -10.8zM1088 1247.7l10.8 10.8l-10.8 10.8l-10.8 -10.8zM1088.2 1251.7l10.8 10.8l-10.8 10.8l-10.8 -10.8zM1088.5 1255.7l10.8 10.8l-10.8 10.8l-10.8 -10.8zM1088.7 1259.7l10.8 10.8l-10.8 10.8l-10.8 -10.8zM1089 1263.7l10.8 10.8l-10.8 10.8l-10.8 -10.8zM1089.3 1267.7l10.8 10.8l-10.8 10.8l-10.8 -10.8zM1089.6 1271.7l10.8 10.8l-10.8 10.8l-10.8 -10.8zM1089.9 1275.7l10.8 10.8l-10.8 10.8l-10.8 -10.8zM1090.3 1279.6l10.8 10.8l-10.8 10.8l-10.8 -10.8zM1090.6 1283.6l10.8 10.8l-10.8 10.8l-10.8 -10.8zM1090.9 1287.6l10.8 10.8l-10.8 10.8l-10.8 -10.8zM1091.3 1291.6l10.8 10.8l-10.8 10.8l-10.8 -10.8zM1091.6 1295.6l10.8 10.8l-10.8 10.8l-10.8 -10.8zM1091.9 1299.6l10.8 10.8l-10.8 10.8l-10.8 -10.8zM1092.2 1303.6l10.8 10.8l-10.8 10.8l-10.8 -10.8zM1092.4 1307.6l10.8 10.8l-10.8 10.8l-10.8 -10.8zM1092.7 1311.5l10.8 10.8l-10.8 10.8l-10.8 -10.8zM1093 1315.5l10.8 10.8l-10.8 10.8l-10.8 -10.8zM1093.2 1319.5l10.8 10.8l-10.8 10.8l-10.8 -10.8zM1093.3 1323.5l10.8 10.8l-10.8 10.8l-10.8 -10.8zM1093.3 1326.2l10.8 10.8l-10.8 10.8l-10.8 -10.8z"/>
</g>
<g stroke="#000" fill="none">
<line x1="223.5" y1="53.3" x2="1814.3" y2="53.3" stroke-width="2.8"/>
<line x1="1814.3" y1="51.9" x2="1814.3" y2="1363" stroke-width="5"/>
<line x1="196.5" y1="1337.5" x2="1816.8" y2="1337.5" stroke-width="3.2"/>
<line x1="223.5" y1="51.9" x2="223.5" y2="1363" stroke-width="3"/>
</g>
<line x1="226.2" y1="55" x2="226.2" y2="1336" stroke="#b4bcbc" stroke-width="2.4"/>
<path stroke="#000" stroke-width="5.2" fill="none" d="M224 1337.5v25.5M303.5 1337.5v12M383 1337.5v25.5M462.5 1337.5v12M542.1 1337.5v25.5M621.6 1337.5v12M701.1 1337.5v25.5M780.6 1337.5v12M860.1 1337.5v25.5M939.6 1337.5v12M1019.1 1337.5v25.5M1098.7 1337.5v12M1178.2 1337.5v25.5M1257.7 1337.5v12M1337.2 1337.5v25.5M1416.7 1337.5v12M1496.2 1337.5v25.5M1575.8 1337.5v12M1655.3 1337.5v25.5M1734.8 1337.5v12M1814.3 1337.5v25.5M224.5 1337.5h-27M224.5 1209.1h-13M224.5 1080.7h-27M224.5 952.2h-13M224.5 823.8h-27M224.5 695.4h-13M224.5 567h-27M224.5 438.6h-13M224.5 310.1h-27M224.5 181.7h-13"/>
<path stroke="#000" stroke-width="2.8" fill="none" d="M224.5 53.3h-27.5"/>
<g font-family="Liberation Serif, Times New Roman, serif" font-size="53" fill="#000">
<text x="179.5" y="1352.3" text-anchor="end">0</text>
<text x="179.5" y="1095.5" text-anchor="end">50</text>
<text x="179.5" y="838.6" text-anchor="end">100</text>
<text x="179.5" y="581.8" text-anchor="end">150</text>
<text x="179.5" y="324.9" text-anchor="end">200</text>
<text x="179.5" y="68.1" text-anchor="end">250</text>
<text x="224.8" y="1420.5" text-anchor="middle">0</text>
<text x="383.8" y="1420.5" text-anchor="middle">100</text>
<text x="542.9" y="1420.5" text-anchor="middle">200</text>
<text x="701.9" y="1420.5" text-anchor="middle">300</text>
<text x="860.9" y="1420.5" text-anchor="middle">400</text>
<text x="1019.9" y="1420.5" text-anchor="middle">500</text>
<text x="1179" y="1420.5" text-anchor="middle">600</text>
<text x="1338" y="1420.5" text-anchor="middle">700</text>
<text x="1497" y="1420.5" text-anchor="middle">800</text>
<text x="1656.1" y="1420.5" text-anchor="middle">900</text>
<text x="1815.1" y="1420.5" text-anchor="middle">1000</text>
</g>
<text x="986" y="1515.5" font-family="Liberation Serif, Times New Roman, serif" font-size="67.5" fill="#000">Z' (Ω)</text>
<text transform="translate(70.9 723) rotate(-90)" font-family="Liberation Serif, Times New Roman, serif" font-size="69" fill="#000">Z'' (Ω)</text>
<rect x="1353.5" y="142.5" width="32.2" height="32.2" fill="#000"/>
<circle cx="1369.8" cy="241.3" r="17.3" fill="#f50000"/>
<path fill="#00ff0c" d="M1370.4 300.2L1390.8 337.8H1349.9Z"/>
<path fill="#00f" d="M1350 395.3H1391.1L1370.5 430.8Z"/>
<path fill="#0ff" d="M1370.5 468.8L1391.1 490.9L1370.5 513L1350 490.9Z"/>
<g font-family="Liberation Sans, Arial, sans-serif" font-size="52.8" fill="#000">
<text x="1444" y="176.8">Control</text>
<text x="1444" y="258.8">POSS-0.005</text>
<text x="1444" y="342.8">POSS-0.01</text>
<text x="1444" y="425">POSS-0.015</text>
<text x="1444" y="507.2">POSS-0.05</text>
</g>
<path stroke="#000" stroke-width="3.6" fill="none" stroke-linejoin="miter" d="M277 246.8H404.3M404.3 246.8L418.6 258.8L450 234.8L481.4 258.8L512.9 234.8L527.1 246.8M527.1 246.8H686.5M686.5 246.8L700.8 258.8L732.2 234.8L763.6 258.8L795.1 234.8L809.3 246.8M809.3 246.8H969.5M969.5 246.8L983.8 258.8L1015.2 234.8L1046.6 258.8L1078.1 234.8L1092.3 246.8M1092.3 246.8H1221M638 246.8V326H735M761.5 326H858.5V246.8M921.5 246.8V326H1016.8M1045.5 326H1139.6V246.8M714.5 311.5L735 326L714.5 340.5M746.5 311.5L762 326L746.5 340.5M998 311.5L1016.8 326L998 340.5M1029.5 311.5L1045.5 326L1029.5 340.5"/>
<ellipse cx="636.9" cy="244" rx="16.3" ry="15" fill="#000"/>
<ellipse cx="919.4" cy="244.6" rx="16.5" ry="15" fill="#000"/>
<g font-family="Liberation Sans, Arial, sans-serif" font-weight="bold" font-size="36" fill="#000" text-anchor="middle">
<text transform="translate(464.5 220.7) scale(1.07 1)">R1</text>
<text transform="translate(749.3 220.7) scale(1.07 1)">R2</text>
<text transform="translate(1031.9 220.7) scale(1.07 1)">R3</text>
<text transform="translate(748 299.9) scale(1.07 1)">CPE1</text>
<text transform="translate(1033 299.8) scale(1.07 1)">CPE2</text>
</g>
</svg></body></html>
